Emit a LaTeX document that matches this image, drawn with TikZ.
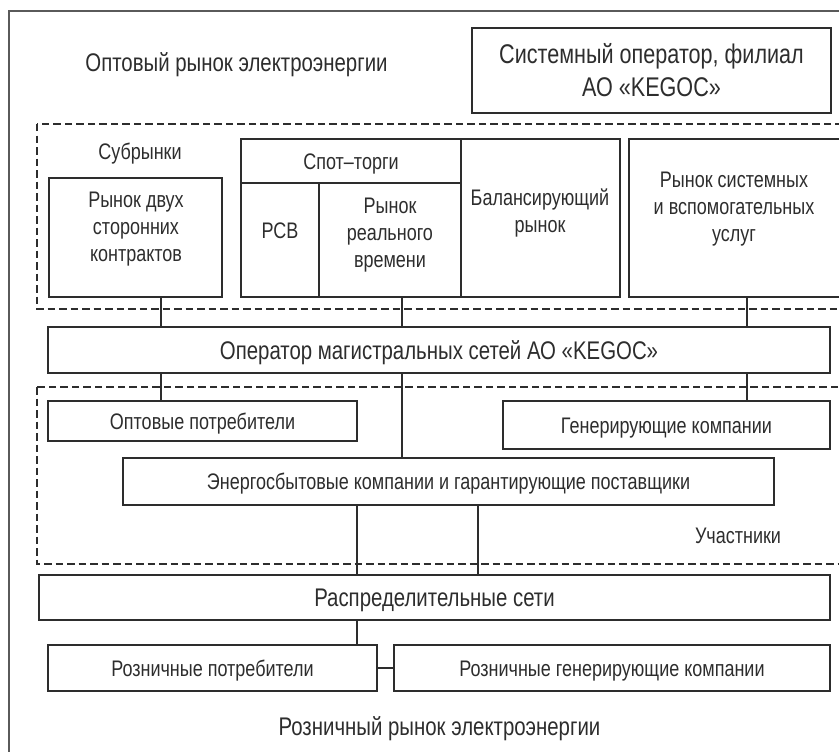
\documentclass[tikz,border=0pt]{standalone}
\usepackage{fontspec}
\setmainfont{Liberation Sans}[FakeStretch=0.8]
\definecolor{ink}{RGB}{45,45,45}
\definecolor{framec}{RGB}{90,90,90}
\tikzset{
  box/.style={draw=ink, line width=2pt, inner sep=0pt, outer sep=0pt, align=center, text=ink},
  lbl/.style={text=ink, inner sep=0pt, outer sep=0pt, align=center},
  bigf/.style={font=\fontsize{25.5}{33}\selectfont},
  sysf/.style={font=\fontsize{27}{33}\selectfont},
  normf/.style={font=\fontsize{22.5}{27}\selectfont},
  capn/.style={text height=16.1pt, text depth=0pt},
  capb/.style={text height=18.3pt, text depth=0pt},
  link/.style={draw=ink, line width=1.5pt},
  zone/.style={draw=ink, line width=1.3pt, dash pattern=on 7.5pt off 4pt},
  framel/.style={draw=framec, line width=1.7pt},
}
\begin{document}
\begin{tikzpicture}[x=1pt,y=-1pt]
\useasboundingbox (0,0) rectangle (839,752);
\clip (0,0) rectangle (839,752);
% outer frame (cropped)
\draw[framel] (9,770) -- (9,11) -- (860,11);
% wholesale market title
\node[lbl,bigf,anchor=base] (wholesale) at (236.5,72) {Оптовый рынок электроэнергии};
\node[box,sysf,minimum width=359pt,minimum height=85pt] (sysop) at (651.5,70.5) {Системный оператор, филиал\\АО «KEGOC»};
% submarkets zone
\draw[zone] (37,124) rectangle (870,309);
\node[lbl,normf,anchor=base] (sub) at (140,160) {Субрынки};
\node[box,minimum width=173pt,minimum height=119pt] (contracts) at (135.5,237.5) {};
\node[lbl,normf] (contracts-t) at (136,229) {Рынок двух\\сторонних\\контрактов};
\node[box,normf,capn,minimum width=220pt,minimum height=44pt] (spot) at (351,161) {Спот–торги};
\node[box,minimum width=78pt,minimum height=114pt] (rsv) at (280,240) {};
\node[lbl,normf,anchor=base] (rsv-t) at (280,238) {РСВ};
\node[box,minimum width=142pt,minimum height=114pt] (rt) at (390,240) {};
\node[lbl,normf] (rt-t) at (390,235) {Рынок\\реального\\времени};
\node[box,minimum width=159pt,minimum height=158pt] (bal) at (540.5,218) {};
\node[lbl,normf] (bal-t) at (540,212.5) {Балансирующий\\рынок};
\node[box,minimum width=240pt,minimum height=158pt,anchor=west] (sys) at (629,218) {};
\node[lbl,normf] (sys-t) at (734,209) {Рынок системных\\и вспомогательных\\услуг};
% main grid operator
\node[box,bigf,capb,minimum width=782pt,minimum height=46pt] (op) at (439,350) {Оператор магистральных сетей АО «KEGOC»};
% participants zone
\draw[zone] (37,387) rectangle (870,564);
\node[box,normf,capn,minimum width=309pt,minimum height=40pt] (opt) at (202.5,421) {Оптовые потребители};
\node[box,normf,capn,minimum width=327pt,minimum height=48pt] (gen) at (666.5,425) {Генерирующие компании};
\node[box,normf,capn,minimum width=651pt,minimum height=47pt] (energo) at (448.5,481.5) {Энергосбытовые компании и гарантирующие поставщики};
\node[lbl,normf,anchor=base] (part) at (738,543) {Участники};
% distribution
\node[box,bigf,capb,minimum width=791pt,minimum height=45pt] (dist) at (434.5,597.5) {Распределительные сети};
\node[box,normf,capn,minimum width=329pt,minimum height=46pt] (rp) at (212.5,668) {Розничные потребители};
\node[box,normf,capn,minimum width=436pt,minimum height=46pt] (rg) at (612,668) {Розничные генерирующие компании};
\node[lbl,bigf,anchor=base] (retail) at (439.5,735) {Розничный рынок электроэнергии};
% connector columns
\coordinate (cA) at (161,0);
\coordinate (cB) at (402,0);
\coordinate (cC) at (747,0);
\coordinate (cD) at (357,0);
\coordinate (cE) at (478,0);
\draw[link] (contracts.south -| cA) -- (op.north -| cA);
\draw[link] (rt.south -| cB) -- (op.north -| cB);
\draw[link] (sys.south -| cC) -- (op.north -| cC);
\draw[link] (op.south -| cA) -- (opt.north -| cA);
\draw[link] (op.south -| cB) -- (energo.north -| cB);
\draw[link] (op.south -| cC) -- (gen.north -| cC);
\draw[link] (energo.south -| cD) -- (dist.north -| cD);
\draw[link] (energo.south -| cE) -- (dist.north -| cE);
\draw[link] (dist.south -| cD) -- (rp.north -| cD);
\draw[link] (rp.east) -- (rg.west);
\end{tikzpicture}
\end{document}
